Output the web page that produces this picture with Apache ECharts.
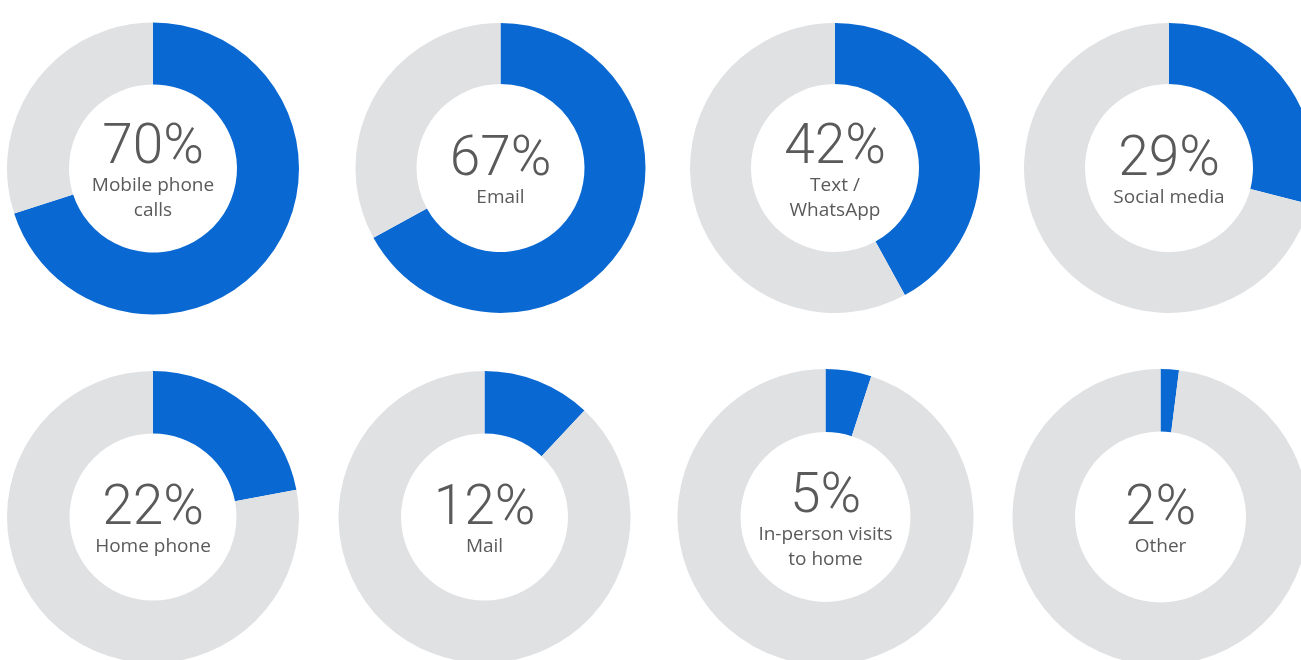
<!DOCTYPE html>
<html>
<head>
<meta charset="utf-8">
<script src="https://cdn.jsdelivr.net/npm/echarts@6/dist/echarts.min.js"></script>
<style>
html,body{margin:0;padding:0;background:#fff;}
#chart{width:1301px;height:660px;}
</style>
</head>
<body>
<div id="chart"></div>
<script>
// Data
var categories = ['Mobile phone\ncalls', 'Email', 'Text /\nWhatsApp', 'Social media', 'Home phone', 'Mail', 'In-person visits\nto home', 'Other'];
var values = [70, 67, 42, 29, 22, 12, 5, 2];

// Layout (pixel positions of each donut)
var centers = [[153, 168.5], [500.5, 168], [835, 168], [1169, 168], [153, 517], [484.5, 517], [825.5, 517], [1160.5, 517]];
var radii = [[84, 146], [84, 145], [84, 145], [84, 145], [83.5, 146], [83.5, 146], [85, 148], [85.5, 148]];

var BLUE = '#0968d2';
var GREY = '#e0e1e3';
var TEXT = '#5a5a5a';

var chart = echarts.init(document.getElementById('chart'), null, {renderer: 'canvas'});

var series = values.map(function (v, i) {
  var lines = categories[i].split('\n');
  var fmt = '{p|' + v + '%}\n' + lines.map(function (l) { return '{l|' + l + '}'; }).join('\n');
  return {
    type: 'pie',
    center: centers[i],
    radius: radii[i],
    startAngle: 90,
    clockwise: true,
    silent: true,
    animation: false,
    avoidLabelOverlap: false,
    labelLine: {show: false},
    emphasis: {disabled: true},
    data: [
      {
        value: v,
        name: categories[i],
        itemStyle: {color: BLUE},
        label: {
          show: true,
          position: 'center',
          padding: [12, 0, 0, 0],
          formatter: fmt,
          rich: {
            p: {fontFamily: 'Roboto', fontWeight: 300, fontSize: 55, lineHeight: 48, color: TEXT, align: 'center'},
            l: {fontFamily: 'Open Sans', fontSize: 19, lineHeight: 25, color: TEXT, align: 'center'}
          }
        }
      },
      {
        value: 100 - v,
        name: 'rest',
        itemStyle: {color: GREY},
        label: {show: false}
      }
    ]
  };
});

chart.setOption({
  backgroundColor: '#ffffff',
  animation: false,
  series: series
});
</script>
</body>
</html>
